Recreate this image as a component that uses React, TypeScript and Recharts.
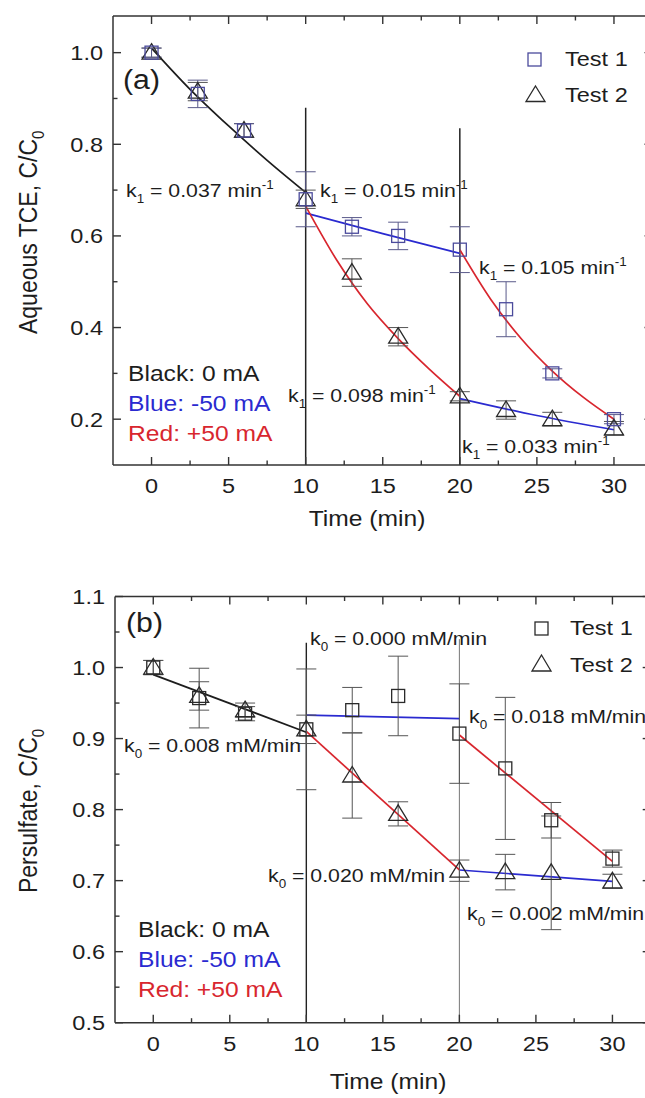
import type { ReactNode } from 'react'
import {
  ComposedChart,
  Line,
  Scatter,
  ErrorBar,
  XAxis,
  YAxis,
  ReferenceLine,
} from 'recharts'

// ---- panel (a): aqueous TCE ----
const TIMES = [0, 3, 6, 10, 13, 16, 20, 23, 26, 30]
const A_TEST1 = [1.0, 0.91, 0.83, 0.68, 0.62, 0.6, 0.57, 0.44, 0.3, 0.2]
const A_TEST1_ERR = [0.01, 0.03, 0.015, 0.06, 0.02, 0.03, 0.05, 0.06, 0.01, 0.01]
const A_TEST2 = [1.0, 0.915, 0.83, 0.68, 0.52, 0.38, 0.25, 0.22, 0.2, 0.18]
const A_TEST2_ERR = [0.01, 0.02, 0.015, 0.02, 0.03, 0.02, 0.01, 0.02, 0.015, 0.015]

const A_BLACK_T = [0, 2.5, 5, 7.5, 10]
const A_BLACK_V = [1.01, 0.92, 0.84, 0.765, 0.695]
const A_BLUE1_T = [10, 15, 20]
const A_BLUE1_V = [0.65, 0.605, 0.562]
const A_RED2_T = [10, 12, 14, 16, 18, 20]
const A_RED2_V = [0.665, 0.548, 0.452, 0.376, 0.31, 0.25]
const A_RED1_T = [20, 22, 24, 26, 28, 30]
const A_RED1_V = [0.57, 0.462, 0.375, 0.305, 0.248, 0.2]
const A_BLUE2_T = [20, 25, 30]
const A_BLUE2_V = [0.245, 0.208, 0.177]

const A_Y_TICKS = [0.2, 0.3, 0.4, 0.5, 0.6, 0.7, 0.8, 0.9, 1.0]
const A_Y_MAJOR = [0.2, 0.4, 0.6, 0.8, 1.0]
const A_Y_LABELS = ['0.2', '0.4', '0.6', '0.8', '1.0']

// ---- panel (b): persulfate ----
const B_TEST1 = [1.0, 0.957, 0.935, 0.913, 0.94, 0.96, 0.907, 0.858, 0.785, 0.731]
const B_TEST1_ERR = [0.01, 0.042, 0.01, 0.085, 0.032, 0.056, 0.07, 0.1, 0.025, 0.012]
const B_TEST2 = [1.0, 0.96, 0.94, 0.913, 0.848, 0.794, 0.714, 0.712, 0.711, 0.699]
const B_TEST2_ERR = [0.01, 0.02, 0.01, 0.02, 0.06, 0.017, 0.015, 0.025, 0.08, 0.01]

const B_BLACK_T = [0, 10]
const B_BLACK_V = [0.99, 0.909]
const B_BLUE1_T = [10, 20]
const B_BLUE1_V = [0.933, 0.928]
const B_RED2_T = [10, 20]
const B_RED2_V = [0.91, 0.715]
const B_RED1_T = [20, 30]
const B_RED1_V = [0.905, 0.727]
const B_BLUE2_T = [20, 30]
const B_BLUE2_V = [0.715, 0.699]

const B_Y_TICKS = [0.5, 0.55, 0.6, 0.65, 0.7, 0.75, 0.8, 0.85, 0.9, 0.95, 1.0, 1.05, 1.1]
const B_Y_MAJOR = [0.5, 0.6, 0.7, 0.8, 0.9, 1.0, 1.1]
const B_Y_LABELS = ['0.5', '0.6', '0.7', '0.8', '0.9', '1.0', '1.1']

const X_TICKS = [0, 2.5, 5, 7.5, 10, 12.5, 15, 17.5, 20, 22.5, 25, 27.5, 30]
const X_MAJOR = [0, 5, 10, 15, 20, 25, 30]
const X_LABELS = ['0', '5', '10', '15', '20', '25', '30']

const FONT = '"Liberation Sans", Arial, Helvetica, sans-serif'
const SX = 1.12
const INK = '#1d1d1d'
const AXIS = '#333'
const BLUE = '#2a2ad0'
const RED = '#d8262e'
const SQ_A = '#4b4b9c'

const pts = (t: number[], v: number[], e?: number[]) =>
  t.map((x, i) => ({ t: x, v: v[i], e: e ? e[i] : 0 }))

const findIdx = (arr: number[], v: number) => arr.findIndex(m => Math.abs(m - v) < 1e-6)

function makeTick(side: 'bottom' | 'top' | 'left' | 'right', majors: number[], labels: string[] | null) {
  return (props: any) => {
    const { x, y, payload } = props
    const idx = findIdx(majors, payload.value)
    const major = idx >= 0
    const len = major ? 8 : 4.5
    let line
    if (side === 'bottom') line = <line x1={x} x2={x} y1={y} y2={y - len} stroke={AXIS} strokeWidth={1.4} />
    else if (side === 'top') line = <line x1={x} x2={x} y1={y} y2={y + len} stroke={AXIS} strokeWidth={1.4} />
    else if (side === 'left') line = <line x1={x} x2={x + len} y1={y} y2={y} stroke={AXIS} strokeWidth={1.4} />
    else line = <line x1={x} x2={x - len} y1={y} y2={y} stroke={AXIS} strokeWidth={1.4} />
    let label = null
    if (labels && major) {
      if (side === 'bottom') {
        label = (
          <text transform={`translate(${x},${y + 28}) scale(${SX},1)`} textAnchor="middle" fontSize={21} fontFamily={FONT} fill={INK}>
            {labels[idx]}
          </text>
        )
      } else if (side === 'left') {
        label = (
          <text transform={`translate(${x - 10},${y + 7.5}) scale(${SX},1)`} textAnchor="end" fontSize={21} fontFamily={FONT} fill={INK}>
            {labels[idx]}
          </text>
        )
      }
    }
    return (
      <g>
        {line}
        {label}
      </g>
    )
  }
}

const Square = (color: string) => (p: any) => (
  <rect x={p.cx - 6.5} y={p.cy - 6.5} width={13} height={13} fill="none" stroke={color} strokeWidth={1.3} />
)
const Triangle = (color: string) => (p: any) => (
  <path d={`M${p.cx},${p.cy - 9} L${p.cx + 9.5},${p.cy + 6.5} L${p.cx - 9.5},${p.cy + 6.5} Z`} fill="none" stroke={color} strokeWidth={1.3} />
)

function Txt({ x, y, size, color = INK, anchor = 'start', children }: { x: number; y: number; size: number; color?: string; anchor?: string; children: ReactNode }) {
  return (
    <text transform={`translate(${x},${y}) scale(${SX},1)`} fontSize={size} fontFamily={FONT} fill={color} textAnchor={anchor as any}>
      {children}
    </text>
  )
}

function K({ x, y, sub, rest, sup }: { x: number; y: number; sub: string; rest: string; sup?: string }) {
  return (
    <Txt x={x} y={y} size={19}>
      <tspan>k</tspan>
      <tspan dy={6} fontSize={12}>{sub}</tspan>
      <tspan dy={-6}>{' ' + rest}</tspan>
      {sup && <tspan dy={-8} fontSize={12}>{sup}</tspan>}
    </Txt>
  )
}

function YTitle({ x, y, label }: { x: number; y: number; label: string }) {
  return (
    <text transform={`translate(${x},${y}) rotate(-90) scale(1,${SX})`} fontSize={23} fontFamily={FONT} fill={INK} textAnchor="start">
      {label}
      <tspan dy={6} fontSize={15}>0</tspan>
    </text>
  )
}

interface PanelProps {
  top: number
  height: number
  margin: { top: number; left: number; right: number; bottom: number }
  yDomain: [number, number]
  yTicks: number[]
  yMajor: number[]
  yLabels: string[]
  test1: { t: number; v: number; e: number }[]
  test2: { t: number; v: number; e: number }[]
  sqColor: string
  errColor1: string
  black: { t: number; v: number }[]
  blue: { t: number; v: number }[][]
  red: { t: number; v: number }[][]
  vlines: { x: number; y0: number; y1: number; stroke: string; w: number }[]
}

function Panel(p: PanelProps) {
  // axes take 1px each; margins below are reduced by that pixel
  const m = { top: p.margin.top - 1, left: p.margin.left - 1, right: p.margin.right - 1, bottom: p.margin.bottom - 1 }
  const axisLine = { stroke: AXIS, strokeWidth: 1.5 }
  return (
    <div style={{ position: 'absolute', left: 0, top: p.top }}>
      <ComposedChart width={680} height={p.height} margin={m}>
        <XAxis
          xAxisId={0}
          dataKey="t"
          type="number"
          domain={[-2.5, 32.5]}
          ticks={X_TICKS}
          interval={0}
          allowDataOverflow
          height={1}
          tickSize={0}
          tickMargin={0}
          tickLine={false}
          axisLine={axisLine}
          tick={makeTick('bottom', X_MAJOR, X_LABELS)}
        />
        <XAxis
          xAxisId="top"
          orientation="top"
          dataKey="t"
          type="number"
          domain={[-2.5, 32.5]}
          ticks={X_TICKS}
          interval={0}
          allowDataOverflow
          height={1}
          tickSize={0}
          tickMargin={0}
          tickLine={false}
          axisLine={axisLine}
          tick={makeTick('top', X_MAJOR, null)}
        />
        <YAxis
          yAxisId={0}
          dataKey="v"
          type="number"
          domain={p.yDomain}
          ticks={p.yTicks}
          interval={0}
          allowDataOverflow
          width={1}
          tickSize={0}
          tickMargin={0}
          tickLine={false}
          axisLine={axisLine}
          tick={makeTick('left', p.yMajor, p.yLabels)}
        />
        <YAxis
          yAxisId="right"
          orientation="right"
          dataKey="v"
          type="number"
          domain={p.yDomain}
          ticks={p.yTicks}
          interval={0}
          allowDataOverflow
          width={1}
          tickSize={0}
          tickMargin={0}
          tickLine={false}
          axisLine={axisLine}
          tick={makeTick('right', p.yMajor, null)}
        />
        <Scatter xAxisId="top" yAxisId="right" data={[]} isAnimationActive={false} />
        {p.vlines.map((l, i) => (
          <ReferenceLine
            key={'v' + i}
            segment={[{ x: l.x, y: l.y0 }, { x: l.x, y: l.y1 }]}
            stroke={l.stroke}
            strokeWidth={l.w}
          />
        ))}
        <Line data={p.black} dataKey="v" type="monotone" stroke={INK} strokeWidth={1.7} dot={false} isAnimationActive={false} />
        {p.blue.map((d, i) => (
          <Line key={'b' + i} data={d} dataKey="v" type="monotone" stroke={BLUE} strokeWidth={1.7} dot={false} isAnimationActive={false} />
        ))}
        {p.red.map((d, i) => (
          <Line key={'r' + i} data={d} dataKey="v" type="monotone" stroke={RED} strokeWidth={1.7} dot={false} isAnimationActive={false} />
        ))}
        <Scatter data={p.test2} shape={Triangle('#2a2a2a')} isAnimationActive={false}>
          <ErrorBar dataKey="e" direction="y" width={10} stroke="#555" strokeWidth={1} />
        </Scatter>
        <Scatter data={p.test1} shape={Square(p.sqColor)} isAnimationActive={false}>
          <ErrorBar dataKey="e" direction="y" width={10} stroke={p.errColor1} strokeWidth={1} />
        </Scatter>
      </ComposedChart>
    </div>
  )
}

export default function App() {
  return (
    <div style={{ position: 'fixed', left: 0, top: 0, width: 645, height: 1098, overflow: 'hidden', background: '#fff' }}>
      <Panel
        top={0}
        height={545}
        margin={{ top: 16, left: 113, right: 27.5, bottom: 80 }}
        yDomain={[0.1, 1.08]}
        yTicks={A_Y_TICKS}
        yMajor={A_Y_MAJOR}
        yLabels={A_Y_LABELS}
        test1={pts(TIMES, A_TEST1, A_TEST1_ERR)}
        test2={pts(TIMES, A_TEST2, A_TEST2_ERR)}
        sqColor={SQ_A}
        errColor1="#5a5a8a"
        black={pts(A_BLACK_T, A_BLACK_V)}
        blue={[pts(A_BLUE1_T, A_BLUE1_V), pts(A_BLUE2_T, A_BLUE2_V)]}
        red={[pts(A_RED2_T, A_RED2_V), pts(A_RED1_T, A_RED1_V)]}
        vlines={[
          { x: 10, y0: 0.1, y1: 0.88, stroke: '#222', w: 1.5 },
          { x: 20, y0: 0.1, y1: 0.835, stroke: '#222', w: 1.5 },
        ]}
      />
      <Panel
        top={560}
        height={538}
        margin={{ top: 36.5, left: 115, right: 29.3, bottom: 75.3 }}
        yDomain={[0.5, 1.1]}
        yTicks={B_Y_TICKS}
        yMajor={B_Y_MAJOR}
        yLabels={B_Y_LABELS}
        test1={pts(TIMES, B_TEST1, B_TEST1_ERR)}
        test2={pts(TIMES, B_TEST2, B_TEST2_ERR)}
        sqColor="#2a2a2a"
        errColor1="#555"
        black={pts(B_BLACK_T, B_BLACK_V)}
        blue={[pts(B_BLUE1_T, B_BLUE1_V), pts(B_BLUE2_T, B_BLUE2_V)]}
        red={[pts(B_RED2_T, B_RED2_V), pts(B_RED1_T, B_RED1_V)]}
        vlines={[
          { x: 10, y0: 0.5, y1: 1.035, stroke: '#222', w: 1.4 },
          { x: 20, y0: 0.5, y1: 1.04, stroke: '#777', w: 1 },
        ]}
      />
      <svg width={645} height={1098} style={{ position: 'absolute', left: 0, top: 0, pointerEvents: 'none' }}>
        {/* panel (a) */}
        <Txt x={123} y={89} size={27}>(a)</Txt>
        <rect x={528} y={53} width={13} height={13} fill="none" stroke={SQ_A} strokeWidth={1.3} />
        <Txt x={565} y={66} size={21}>Test 1</Txt>
        <path d="M535.5,86 L545,101.5 L526,101.5 Z" fill="none" stroke="#2a2a2a" strokeWidth={1.3} />
        <Txt x={565} y={102} size={21}>Test 2</Txt>
        <K x={126} y={197} sub="1" rest="= 0.037 min" sup="-1" />
        <K x={320} y={197} sub="1" rest="= 0.015 min" sup="-1" />
        <K x={479} y={274} sub="1" rest="= 0.105 min" sup="-1" />
        <K x={288} y={402} sub="1" rest="= 0.098 min" sup="-1" />
        <K x={462} y={453} sub="1" rest="= 0.033 min" sup="-1" />
        <Txt x={128} y={381} size={22}>Black: 0 mA</Txt>
        <Txt x={128} y={411} size={22} color={BLUE}>Blue: -50 mA</Txt>
        <Txt x={128} y={441} size={22} color={RED}>Red: +50 mA</Txt>
        <Txt x={367} y={526} size={22} anchor="middle">Time (min)</Txt>
        <YTitle x={37} y={334} label="Aqueous TCE, C/C" />

        {/* panel (b) */}
        <Txt x={126} y={632} size={27}>(b)</Txt>
        <rect x={535} y={622} width={13} height={13} fill="none" stroke="#2a2a2a" strokeWidth={1.3} />
        <Txt x={570} y={635} size={21}>Test 1</Txt>
        <path d="M541.5,655 L551,671 L532,671 Z" fill="none" stroke="#2a2a2a" strokeWidth={1.3} />
        <Txt x={570} y={672} size={21}>Test 2</Txt>
        <K x={310} y={645} sub="0" rest="= 0.000 mM/min" />
        <K x={124} y={752} sub="0" rest="= 0.008 mM/min" />
        <K x={469} y={723} sub="0" rest="= 0.018 mM/min" />
        <K x={268} y={882} sub="0" rest="= 0.020 mM/min" />
        <K x={467} y={920} sub="0" rest="= 0.002 mM/min" />
        <Txt x={138} y={937} size={22}>Black: 0 mA</Txt>
        <Txt x={138} y={967} size={22} color={BLUE}>Blue: -50 mA</Txt>
        <Txt x={138} y={997} size={22} color={RED}>Red: +50 mA</Txt>
        <Txt x={388} y={1089} size={22} anchor="middle">Time (min)</Txt>
        <YTitle x={37} y={893} label="Persulfate, C/C" />
      </svg>
    </div>
  )
}
